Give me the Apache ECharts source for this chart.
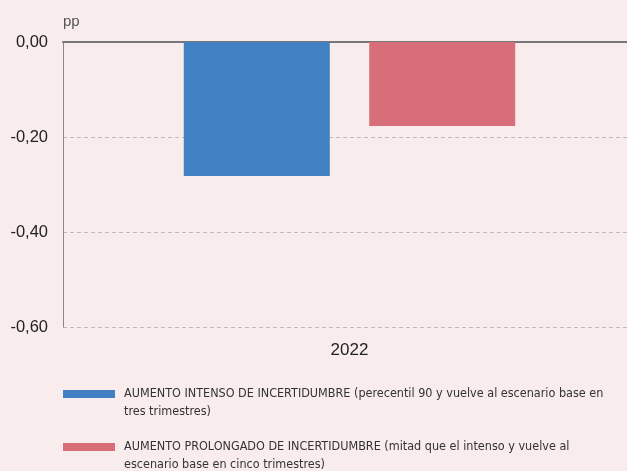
<!DOCTYPE html>
<html>
<head>
<meta charset="utf-8">
<script src="https://cdn.jsdelivr.net/npm/echarts@6/dist/echarts.min.js"></script>
<style>
  html, body { margin: 0; padding: 0; background: #f8ecec; overflow: hidden; }
  /* plot area runs a little past the right edge of the picture */
  #chart { width: 636px; height: 471px; }
</style>
</head>
<body>
<div id="chart"></div>
<script>
const categories = ['2022']
const intensoValues = [-0.282]
const prolongadoValues = [-0.177]
const seriesNames = [
  'AUMENTO INTENSO DE INCERTIDUMBRE (perecentil 90 y vuelve al escenario base en\ntres trimestres)',
  'AUMENTO PROLONGADO DE INCERTIDUMBRE (mitad que el intenso y vuelve al\nescenario base en cinco trimestres)'
]
const yTicks = { min: -0.6, max: 0, interval: 0.2 }

const chart = echarts.init(document.getElementById('chart'))

const legendText = {
  color: '#333',
  fontSize: 12.5,
  fontFamily: '"Liberation Sans Narrow", "DejaVu Sans Condensed", sans-serif',
  lineHeight: 18
}

// blank first line so the icon sits next to the first text line
const legendFormatter = (name) => '\n' + name
// 52px swatch plus a little empty room before the text
const legendIcon = 'path://M0,0H52V8H0Z M56,0L56,0'

const baseFont = '"Liberation Sans", Arial, sans-serif'

const legendBase = {
  left: 63,
  padding: 0,
  itemWidth: 56,
  itemHeight: 8,
  icon: legendIcon,
  formatter: legendFormatter,
  textStyle: legendText
}

chart.setOption({
  backgroundColor: '#f8ecec',
  animation: false,
  grid: { left: 63, right: 0, top: 42, bottom: 144 },
  xAxis: [
    {
      type: 'category',
      data: categories,
      position: 'bottom',
      axisLine: { show: false },
      axisTick: { show: false },
      axisLabel: { color: '#222', fontSize: 17, margin: 15, fontFamily: baseFont }
    },
    {
      type: 'category',
      data: categories,
      position: 'top',
      axisLine: { show: true, lineStyle: { color: '#777', width: 2 } },
      axisTick: { show: false },
      axisLabel: { show: false }
    }
  ],
  yAxis: {
    type: 'value',
    min: yTicks.min,
    max: yTicks.max,
    interval: yTicks.interval,
    name: 'pp',
    nameLocation: 'end',
    nameGap: 13,
    nameTextStyle: { align: 'left', color: '#555', fontSize: 15, fontFamily: baseFont },
    axisLine: { show: true, lineStyle: { color: '#888', width: 1 } },
    axisTick: { show: false },
    axisLabel: {
      color: '#222',
      fontSize: 16.5,
      margin: 15,
      fontFamily: baseFont,
      formatter: (v) => v.toFixed(2).replace('.', ',')
    },
    splitLine: { show: true, lineStyle: { color: '#bbb', type: [4, 3], width: 1 } }
  },
  legend: [
    { ...legendBase, data: [seriesNames[0]], top: 367 },
    { ...legendBase, data: [seriesNames[1]], top: 420 }
  ],
  series: [
    {
      name: seriesNames[0],
      type: 'bar',
      data: intensoValues,
      barWidth: 146,
      barGap: '27%',
      itemStyle: { color: '#4180c3' }
    },
    {
      name: seriesNames[1],
      type: 'bar',
      data: prolongadoValues,
      barWidth: 146,
      barGap: '27%',
      itemStyle: { color: '#d96e7b' }
    }
  ]
})
</script>
</body>
</html>
